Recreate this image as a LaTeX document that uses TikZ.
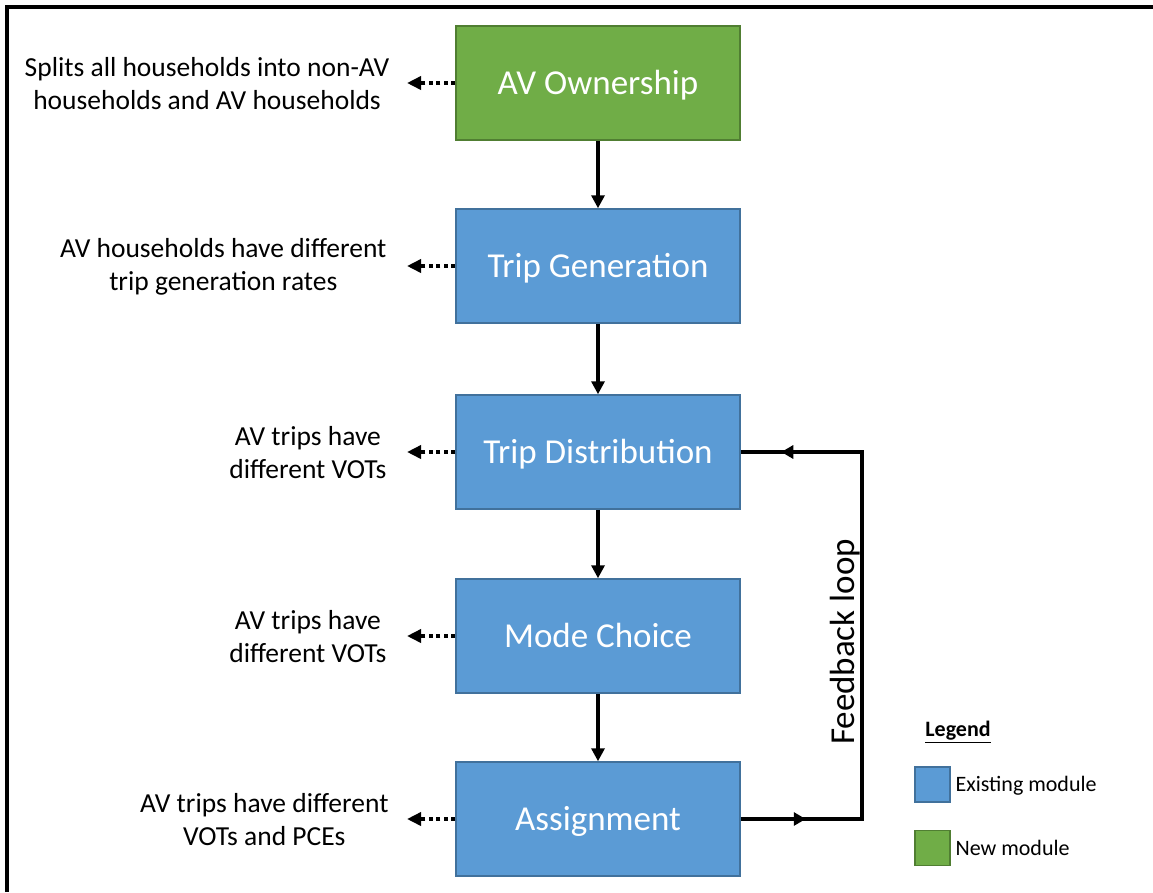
\documentclass[tikz,border=0pt]{standalone}
\usepackage{fontspec}
\setmainfont{Carlito}
\usetikzlibrary{arrows.meta,decorations.markings}

\definecolor{oldblue}{HTML}{5B9BD5}
\definecolor{oldblueline}{HTML}{41719C}
\definecolor{newgreen}{HTML}{70AD47}
\definecolor{newgreenline}{HTML}{507E32}

\tikzset{
  module/.style={draw,line width=1.5pt,minimum width=284pt,minimum height=114pt,inner sep=0pt,
    text=white,font=\fontsize{35}{42}\selectfont,text depth=2pt},
  oldmodule/.style={module,fill=oldblue,draw=oldblueline},
  newmodule/.style={module,fill=newgreen,draw=newgreenline},
  note/.style={anchor=east,align=center,font=\fontsize{27.5}{33}\selectfont},
  flow/.style={line width=4pt,-{Triangle[length=13pt,width=13pt]}},
  effect/.style={line width=4.5pt,dash pattern=on 4pt off 3.5pt,-{Triangle[length=14pt,width=13pt]}},
  keybox/.style={draw,line width=1.2pt,minimum size=35pt,inner sep=0pt},
  keytext/.style={anchor=west,font=\fontsize{22}{26}\selectfont}
}

\begin{document}
\begin{tikzpicture}[x=1pt,y=-1pt]
\useasboundingbox (0,0) rectangle (1153,892);
\draw[line width=3.5pt] (7,892) -- (7,7) -- (1153,7);

\node[newmodule] (own) at (598,83) {AV Ownership};
\node[oldmodule] (tgen) at (598,266) {Trip Generation};
\node[oldmodule] (tdist) at (598,452) {Trip Distribution};
\node[oldmodule] (mode) at (598,636) {Mode Choice};
\node[oldmodule] (assign) at (598,819) {Assignment};

\draw[flow] (own) -- (tgen);
\draw[flow] (tgen) -- (tdist);
\draw[flow] (tdist) -- (mode);
\draw[flow] (mode) -- (assign);

\node[note] (n1) at (393,84) {Splits all households into non-AV\\households and AV households};
\node[note] (n2) at (390,267) {AV households have different\\trip generation rates};
\node[note] (n3) at (390,453) {AV trips have\\different VOTs};
\node[note] (n4) at (390,637) {AV trips have\\different VOTs};
\node[note] (n5) at (392,820) {AV trips have different\\VOTs and PCEs};

\draw[effect] (own.west) -- (407,83);
\draw[effect] (tgen.west) -- (407,266);
\draw[effect] (tdist.west) -- (407,452);
\draw[effect] (mode.west) -- (407,636);
\draw[effect] (assign.west) -- (407,819);

\coordinate (c1) at (862,819);
\coordinate (c2) at (862,452);
\draw[line width=4pt,postaction={decorate},decoration={markings,
  mark=at position 65pt with {\arrow{Triangle[length=12pt,width=13pt]}},
  mark=at position 569pt with {\arrow{Triangle[length=12pt,width=13pt]}}}]
  (assign.east) -- (c1) -- (c2) -- (tdist.east);
\node[rotate=90,font=\fontsize{35}{42}\selectfont] (fb) at (845,642) {Feedback loop};

\node[font=\bfseries\fontsize{22}{26}\selectfont] (leg) at (958,732) {\underline{Legend}};
\node[keybox,fill=oldblue,draw=oldblueline] (k1) at (932.5,784.5) {};
\node[keytext] (t1) at (952,786) {Existing module};
\node[keybox,fill=newgreen,draw=newgreenline] (k2) at (932.5,848) {};
\node[keytext] (t2) at (952,848) {New module};
\end{tikzpicture}
\end{document}
